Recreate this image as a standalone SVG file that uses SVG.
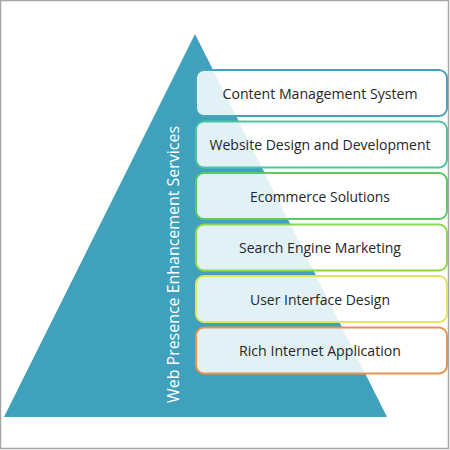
<svg xmlns="http://www.w3.org/2000/svg" width="450" height="450" viewBox="0 0 450 450">
<style>
.box{fill:#ffffff;fill-opacity:0.85;stroke-width:2}
.lbl{font-family:"Open Sans","Liberation Sans",Arial,sans-serif;font-size:15px;fill:#262626;text-anchor:middle}
.side{font-family:"Open Sans","Liberation Sans",Arial,sans-serif;font-size:16.5px;fill:#ffffff;text-anchor:middle}
</style>
<rect x="0.5" y="0.5" width="448" height="448" fill="#ffffff" stroke="#a6a6a6" stroke-width="1.5"/>
<g id="pyramid">
<polygon points="195,34 4,417 387,417" fill="#3fa1bb"/>
<text class="side" transform="translate(178.5,264.5) rotate(-90)" textLength="277" lengthAdjust="spacingAndGlyphs">Web Presence Enhancement Services</text>
</g>
<g id="connectors"></g>
<g id="n1"><rect class="box" x="196" y="70" width="251" height="46" rx="8" stroke="#4aa3bd"/><text class="lbl" x="320" y="98.5" textLength="195" lengthAdjust="spacingAndGlyphs">Content Management System</text></g>
<g id="n2"><rect class="box" x="196" y="121.5" width="251" height="46" rx="8" stroke="#4cc5a2"/><text class="lbl" x="320" y="150" textLength="221" lengthAdjust="spacingAndGlyphs">Website Design and Development</text></g>
<g id="n3"><rect class="box" x="196" y="173" width="251" height="46" rx="8" stroke="#58cc64"/><text class="lbl" x="320" y="201.5" textLength="140" lengthAdjust="spacingAndGlyphs">Ecommerce Solutions</text></g>
<g id="n4"><rect class="box" x="196" y="224.5" width="251" height="46" rx="8" stroke="#8cd84c"/><text class="lbl" x="320" y="253" textLength="162" lengthAdjust="spacingAndGlyphs">Search Engine Marketing</text></g>
<g id="n5"><rect class="box" x="196" y="276" width="251" height="46" rx="8" stroke="#dfe55c"/><text class="lbl" x="320" y="304.5" textLength="140" lengthAdjust="spacingAndGlyphs">User Interface Design</text></g>
<g id="n6"><rect class="box" x="196" y="327.5" width="251" height="46" rx="8" stroke="#e8924c"/><text class="lbl" x="320" y="356" textLength="162" lengthAdjust="spacingAndGlyphs">Rich Internet Application</text></g>
</svg>
